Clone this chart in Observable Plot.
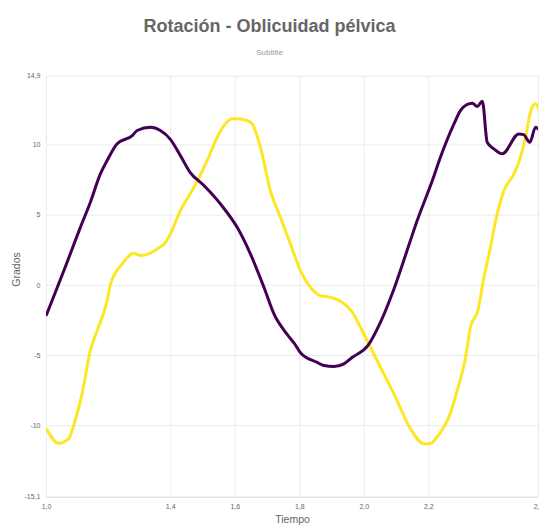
<!DOCTYPE html>
<html>
<head>
<meta charset="utf-8">
<script src="https://cdn.jsdelivr.net/npm/d3@7"></script>
<script src="https://cdn.jsdelivr.net/npm/@observablehq/plot@0.6"></script>
<style>
  body { margin: 0; background: #fff; font-family: "Liberation Sans", Arial, sans-serif; }
  #wrap { width: 539px; position: relative; }
  #hdr { position: relative; height: 62px; }
  #title { position: absolute; top: 16px; left: 0; width: 539px; text-align: center; font-size: 18px; font-weight: bold; color: #666; line-height: 20px; }
  #subtitle { position: absolute; top: 47.5px; left: 0; width: 539px; text-align: center; font-size: 8px; color: #999; line-height: 10px; }
</style>
</head>
<body>
<div id="wrap">
  <div id="hdr">
    <div id="title">Rotación - Oblicuidad pélvica</div>
    <div id="subtitle">Subtitle</div>
  </div>
  <div id="chart"></div>
</div>
<script>
// Serie morada (purple)
const tiempoMorado = [1.015, 1.069, 1.120, 1.151, 1.182, 1.203, 1.234, 1.281, 1.296, 1.337, 1.368, 1.399, 1.430, 1.460, 1.503, 1.554, 1.606, 1.647, 1.689, 1.720, 1.761, 1.785, 1.802, 1.854, 1.875, 1.906, 1.937, 1.963, 2.011, 2.050, 2.092, 2.143, 2.164, 2.211, 2.236, 2.278, 2.298, 2.324, 2.335, 2.350, 2.366, 2.381, 2.402, 2.428, 2.479, 2.494, 2.513, 2.531, 2.543];
const valorMorado = [-2.1, 1.05, 4.13, 5.92, 7.94, 8.89, 10.08, 10.67, 11.03, 11.26, 11.03, 10.4, 9.24, 8.05, 7.11, 5.80, 4.13, 2.24, -0.14, -2.04, -3.5, -4.2, -4.8, -5.49, -5.72, -5.79, -5.60, -5.13, -4.30, -2.64, -0.26, 3.19, 4.61, 7.46, 9.12, 11.50, 12.45, 12.93, 12.97, 12.74, 13.11, 10.19, 9.72, 9.37, 10.79, 10.74, 10.19, 11.26, 11.03];

// Serie amarilla (yellow)
const tiempoAmarillo = [1.016, 1.053, 1.084, 1.100, 1.126, 1.151, 1.172, 1.203, 1.213, 1.250, 1.286, 1.306, 1.332, 1.358, 1.384, 1.399, 1.430, 1.472, 1.513, 1.544, 1.565, 1.591, 1.606, 1.637, 1.653, 1.678, 1.709, 1.740, 1.771, 1.802, 1.833, 1.864, 1.895, 1.932, 1.963, 1.988, 2.014, 2.050, 2.092, 2.143, 2.185, 2.200, 2.236, 2.262, 2.288, 2.314, 2.329, 2.352, 2.371, 2.389, 2.412, 2.433, 2.464, 2.484, 2.500, 2.515, 2.531, 2.543];
const valorAmarillo = [-10.28, -11.26, -10.93, -9.93, -7.65, -4.65, -3.23, -1.09, 0.05, 1.53, 2.28, 2.12, 2.24, 2.59, 3.06, 3.66, 5.32, 6.98, 8.89, 10.55, 11.38, 11.86, 11.86, 11.74, 11.50, 9.84, 6.75, 4.85, 2.95, 1.05, -0.14, -0.73, -0.86, -1.21, -1.92, -2.99, -4.18, -5.84, -7.74, -10.21, -11.30, -11.30, -10.48, -9.41, -7.51, -5.13, -2.99, -1.80, 0.57, 2.47, 5.09, 6.75, 7.94, 9.12, 10.55, 12.33, 12.93, 12.33];

const xTicks = [1.015, 1.4, 1.6, 1.8, 2.0, 2.2, 2.54];
const yTicks = [-15.1, -10, -5, 0, 5, 10, 14.9];

const morado = tiempoMorado.map((t, i) => ({t, v: valorMorado[i]}));
const amarillo = tiempoAmarillo.map((t, i) => ({t, v: valorAmarillo[i]}));

const fmt = d => (Number.isInteger(d) ? String(d) : d.toFixed(1)).replace(".", ",");

const chart = Plot.plot({
  width: 539,
  height: 463,
  marginTop: 13.7,
  marginLeft: 46,
  marginRight: 1,
  marginBottom: 28.3,
  style: {fontFamily: "'Liberation Sans', Arial, sans-serif", fontSize: "7px", color: "#666", background: "white", overflow: "visible"},
  x: {domain: [1.015, 2.54]},
  y: {domain: [-15.1, 14.9]},
  marks: [
    Plot.gridY(yTicks, {stroke: "#ebebeb", strokeOpacity: 1}),
    Plot.gridX(xTicks, {stroke: "#ebebeb", strokeOpacity: 1}),
    Plot.ruleY([-15.1], {stroke: "#d8dde6"}),
    Plot.axisY(yTicks, {tickSize: 0, tickPadding: 6, tickFormat: fmt, label: null, fill: "#666"}),
    Plot.axisX(xTicks, {tickSize: 0, tickPadding: 6.5, tickFormat: d => d.toFixed(1).replace(".", ","), label: null, fill: "#666"}),
    Plot.line(amarillo, {x: "t", y: "v", stroke: "#fde725", strokeWidth: 3, curve: "monotone-x", clip: true}),
    Plot.line(morado, {x: "t", y: "v", stroke: "#440154", strokeWidth: 3, curve: "monotone-x", clip: true}),
    Plot.text(["Grados"], {frameAnchor: "left", dx: -30, rotate: -90, fontSize: 10.5, fill: "#666"}),
    Plot.text(["Tiempo"], {frameAnchor: "bottom", dy: 26, fontSize: 10.5, fill: "#666"})
  ]
});
document.getElementById("chart").appendChild(chart);
</script>
</body>
</html>
